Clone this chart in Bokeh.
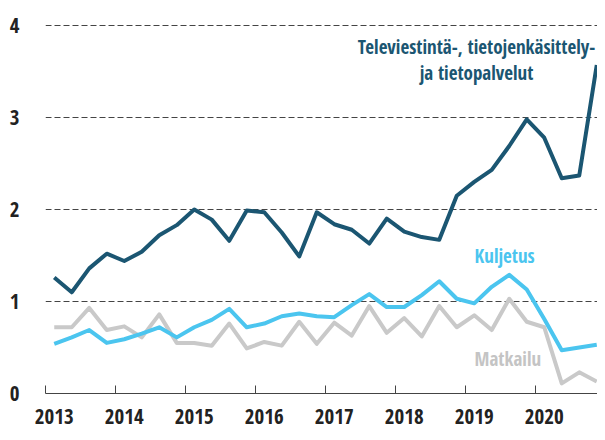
from bokeh.plotting import figure
from bokeh.models import FixedTicker, ColumnDataSource, Label
from bokeh.embed import file_html
from bokeh.resources import INLINE

# Quarterly data 2013Q1 - 2020Q4
years = [2013, 2014, 2015, 2016, 2017, 2018, 2019, 2020]
tick_labels = ["2013", "2014", "2015", "2016", "2017", "2018", "2019", "2020"]
quarters = [y + (q - 0.5) / 4 for y in years for q in range(1, 5)]

tele = [1.26, 1.10, 1.36, 1.52, 1.44, 1.54, 1.72, 1.83,
        2.00, 1.89, 1.66, 1.99, 1.97, 1.75, 1.49, 1.97,
        1.84, 1.78, 1.63, 1.90, 1.76, 1.70, 1.67, 2.15,
        2.30, 2.43, 2.69, 2.98, 2.78, 2.34, 2.37, 3.57]
kuljetus = [0.54, 0.61, 0.69, 0.55, 0.59, 0.65, 0.72, 0.61,
            0.72, 0.80, 0.92, 0.72, 0.76, 0.84, 0.87, 0.84,
            0.83, 0.96, 1.08, 0.94, 0.94, 1.07, 1.22, 1.03,
            0.98, 1.16, 1.29, 1.13, 0.81, 0.47, 0.50, 0.53]
matkailu = [0.72, 0.72, 0.93, 0.69, 0.73, 0.61, 0.86, 0.55,
            0.55, 0.52, 0.76, 0.49, 0.56, 0.52, 0.78, 0.54,
            0.77, 0.63, 0.95, 0.66, 0.82, 0.62, 0.95, 0.72,
            0.85, 0.69, 1.03, 0.78, 0.72, 0.11, 0.23, 0.13]
y_ticks = [0, 1, 2, 3, 4]
grid_ticks = [1, 2, 3, 4]

C_TELE = "#1b5672"
C_KUL = "#4bc5ef"
C_MAT = "#c9c9c9"
TXT = "#222222"
FONT = "Open Sans Condensed"

p = figure(width=597, height=432, output_backend="svg", toolbar_location=None,
           x_range=(2013, 2013 + 552 / 70), y_range=(0, 393 / 92))
p.min_border_left = 45
p.min_border_right = 0
p.min_border_top = 0
p.min_border_bottom = 39
p.outline_line_color = None
p.background_fill_color = "white"
p.border_fill_color = "white"

src = ColumnDataSource(dict(x=quarters, tele=tele, kul=kuljetus, mat=matkailu))
p.line("x", "mat", source=src, line_color=C_MAT, line_width=4, line_join="round")
p.line("x", "kul", source=src, line_color=C_KUL, line_width=4, line_join="round")
p.line("x", "tele", source=src, line_color=C_TELE, line_width=4, line_join="round")

# x axis: labels centred on first quarter, tick marks at year starts
p.xaxis.ticker = FixedTicker(ticks=[y + 0.125 for y in years], minor_ticks=years)
p.xaxis.major_label_overrides = {y + 0.125: l for y, l in zip(years, tick_labels)}
p.xaxis.major_tick_line_color = None
p.xaxis.major_tick_in = 0
p.xaxis.major_tick_out = 0
p.xaxis.minor_tick_line_color = "#444444"
p.xaxis.minor_tick_in = 8
p.xaxis.minor_tick_out = 0
p.xaxis.axis_line_color = "#444444"
p.xaxis.axis_line_width = 1.2
p.xaxis.major_label_text_font = FONT
p.xaxis.major_label_text_font_size = "21px"
p.xaxis.major_label_text_color = TXT
p.xaxis.major_label_standoff = 15

# y axis: labels only
p.yaxis.ticker = FixedTicker(ticks=y_ticks)
p.yaxis.axis_line_color = None
p.yaxis.major_tick_line_color = None
p.yaxis.major_tick_in = 0
p.yaxis.major_tick_out = 0
p.yaxis.minor_tick_line_color = None
p.yaxis.major_label_text_font = FONT
p.yaxis.major_label_text_font_size = "21px"
p.yaxis.major_label_text_color = TXT
p.yaxis.major_label_standoff = 26

p.xgrid.grid_line_color = None
p.ygrid.ticker = FixedTicker(ticks=grid_ticks)
p.ygrid.grid_line_color = "#444444"
p.ygrid.grid_line_dash = "6 3"
p.ygrid.grid_line_width = 1

def lab(x, y, t, c, align, size="19px"):
    p.add_layout(Label(x=x, y=y, text=t, text_color=c, text_font=FONT,
                       text_font_size=size, text_align=align,
                       text_baseline="middle"))

lab(2019.157, 3.77, "Televiestintä-, tietojenkäsittely-", C_TELE, "center")
lab(2019.157, 3.48, "ja tietopalvelut", C_TELE, "center")
lab(2019.13, 1.49, "Kuljetus", C_KUL, "left")
lab(2019.13, 0.37, "Matkailu", "#c4c4c4", "left")

open("out.html", "w").write(file_html(p, INLINE))
